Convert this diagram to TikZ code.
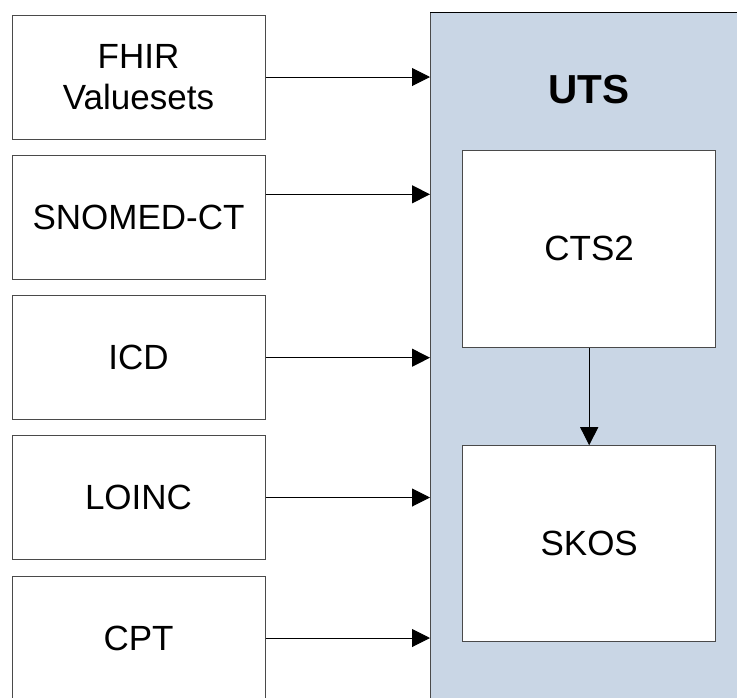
\documentclass[tikz,border=0pt]{standalone}
\usepackage{fontspec}
\setmainfont{Liberation Sans}
\usetikzlibrary{arrows.meta}
\definecolor{utsfill}{HTML}{C9D6E5}
\definecolor{boxline}{HTML}{4A4A4A}

\begin{document}
\begin{tikzpicture}[x=1pt,y=-1pt,
		srcbox/.style={draw=boxline,line width=1pt,fill=white,minimum width=253pt,minimum height=124pt,inner sep=0pt,align=center,font=\fontsize{35}{41.5}\selectfont},
		innerbox/.style={draw=boxline,line width=1pt,fill=white,minimum width=253pt,inner sep=0pt,font=\fontsize{35}{41.5}\selectfont},
		arr/.style={draw=black,line width=1pt,-{Triangle[length=18pt,width=18pt]}}]
			\useasboundingbox (0,0) rectangle (737,697);
			\clip (0,0) rectangle (737,697);
			% UTS panel
			\node[draw=boxline,line width=1pt,fill=utsfill,minimum width=340pt,minimum height=720pt,anchor=north west,inner sep=0pt] (uts) at (430,12) {};
			\draw[black,line width=1pt] (430,12) -- (745,12);
			\node[font=\fontsize{40.5}{45}\selectfont\bfseries] (utslabel) at (589,89.5) {UTS};
			\node[innerbox,minimum height=197pt] (cts) at (589.2,248.8) {CTS2};
			\node[innerbox,minimum height=196pt] (skos) at (589.2,543.7) {SKOS};
			% sources
			\node[srcbox] (fhir) at (138.5,77) {FHIR\\Valuesets};
			\node[srcbox] (snomed) at (138.5,217.5) {SNOMED-CT};
			\node[srcbox] (icd) at (138.5,357.7) {ICD};
			\node[srcbox] (loinc) at (138.5,497.5) {LOINC};
			\node[srcbox] (cpt) at (138.5,638) {CPT};
			% arrows
			\draw[arr] (fhir.east) -- (fhir.east -| uts.west);
			\draw[arr] ([yshift=23.2pt]snomed.east) -- ([yshift=23.2pt]snomed.east -| uts.west);
			\draw[arr] (icd.east) -- (icd.east -| uts.west);
			\draw[arr] (loinc.east) -- (loinc.east -| uts.west);
			\draw[arr] (cpt.east) -- (cpt.east -| uts.west);
			\draw[arr] (cts.south) -- (skos.north);
		\end{tikzpicture}
\end{document}
